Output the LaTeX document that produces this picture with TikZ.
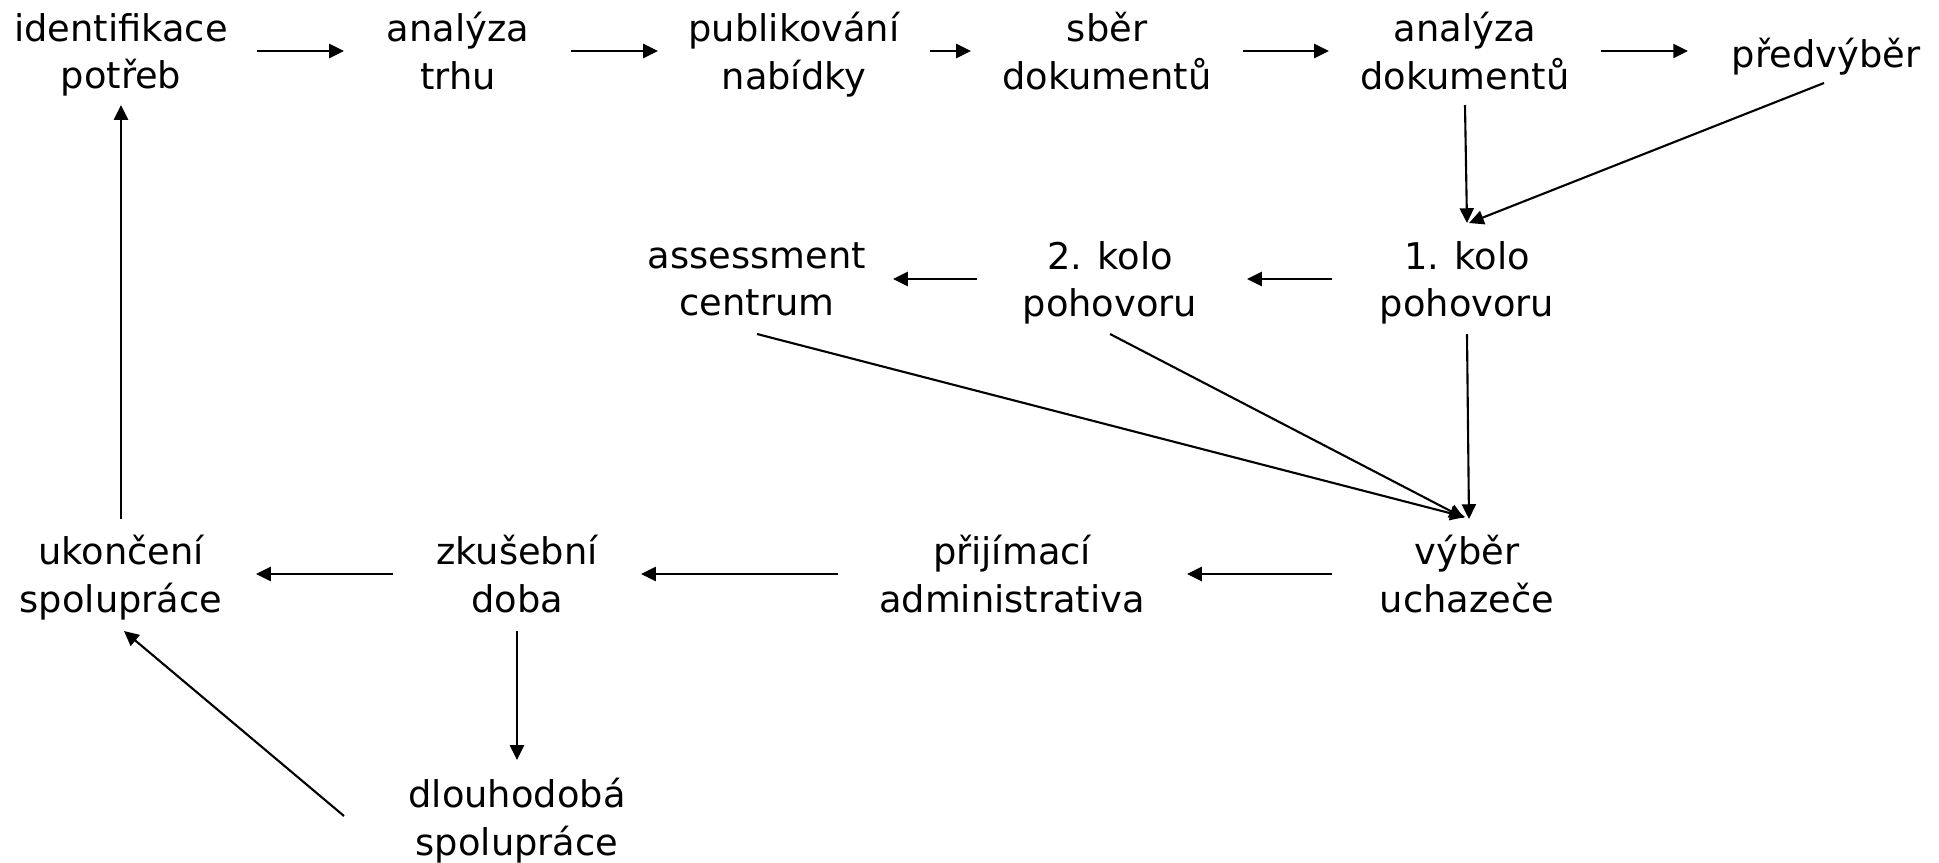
\documentclass[tikz,border=0pt]{standalone}
\usepackage{fontspec}
\setmainfont{DejaVu Sans}
\usetikzlibrary{arrows.meta, positioning}

\begin{document}
\begin{tikzpicture}[>={Triangle[length=4.2pt, width=4pt]}, every node/.style={font=\fontsize{10.47}{13.5}\selectfont, align=center, inner sep=0pt, execute at begin node=\strut, execute at end node=\strut}, flow/.style={->, line width=0.6pt}]
\useasboundingbox (0,0) rectangle (19.39,8.62);
% first row
\node (ident) at (1.21,8.04) {identifikace\\potřeb};
\node (trhu) at (4.58,8.04) {analýza\\trhu};
\node (nabidka) at (7.94,8.04) {publikování\\nabídky};
\node (sber) at (11.07,8.04) {sběr\\dokumentů};
\node (analyza) at (14.65,8.04) {analýza\\dokumentů};
\node (predvyber) at (18.26,8.04) {předvýběr};
% interviews
\node (assess) at (7.57,5.76) {assessment\\centrum};
\node (kolo2) at (11.10,5.76) {2. kolo\\pohovoru};
\node (kolo1) at (14.67,5.76) {1. kolo\\pohovoru};
% third row
\node (ukonceni) at (1.21,2.81) {ukončení\\spolupráce};
\node (zkusebni) at (5.17,2.81) {zkušební\\doba};
\node (prijimaci) at (10.12,2.81) {přijímací\\administrativa};
\node (vyber) at (14.67,2.81) {výběr\\uchazeče};
\node (dlouho) at (5.17,0.38) {dlouhodobá\\spolupráce};

\draw[flow] ([xshift=1.36cm, yshift=0.07cm]ident.center) -- ([xshift=-1.14cm, yshift=0.07cm]trhu.center);
\draw[flow] ([xshift=1.13cm, yshift=0.07cm]trhu.center) -- ([xshift=-1.36cm, yshift=0.07cm]nabidka.center);
\draw[flow] ([xshift=1.36cm, yshift=0.07cm]nabidka.center) -- ([xshift=-1.36cm, yshift=0.07cm]sber.center);
\draw[flow] ([xshift=1.36cm, yshift=0.07cm]sber.center) -- ([xshift=-1.36cm, yshift=0.07cm]analyza.center);
\draw[flow] ([xshift=1.36cm, yshift=0.07cm]analyza.center) -- ([xshift=-1.38cm, yshift=0.07cm]predvyber.center);
\draw[flow] ([yshift=-0.47cm]analyza.center) -- ([yshift=0.63cm]kolo1.center);
\draw[flow] ([xshift=-0.02cm, yshift=-0.25cm]predvyber.center) -- ([xshift=0.02cm, yshift=0.63cm]kolo1.center);
\draw[flow] ([xshift=-1.35cm, yshift=0.07cm]kolo1.center) -- ([xshift=1.37cm, yshift=0.07cm]kolo2.center);
\draw[flow] ([xshift=-1.33cm, yshift=0.07cm]kolo2.center) -- ([xshift=1.36cm, yshift=0.07cm]assess.center);
\draw[flow] ([yshift=-0.48cm]kolo1.center) -- ([xshift=0.02cm, yshift=0.62cm]vyber.center);
\draw[flow] ([yshift=-0.48cm]kolo2.center) -- ([xshift=-0.03cm, yshift=0.63cm]vyber.center);
\draw[flow] ([yshift=-0.48cm]assess.center) -- ([xshift=-0.02cm, yshift=0.64cm]vyber.center);
\draw[flow] ([xshift=-1.35cm, yshift=0.07cm]vyber.center) -- ([xshift=1.75cm, yshift=0.07cm]prijimaci.center);
\draw[flow] ([xshift=-1.74cm, yshift=0.07cm]prijimaci.center) -- ([xshift=1.24cm, yshift=0.07cm]zkusebni.center);
\draw[flow] ([xshift=-1.24cm, yshift=0.07cm]zkusebni.center) -- ([xshift=1.35cm, yshift=0.07cm]ukonceni.center);
\draw[flow] ([yshift=0.62cm]ukonceni.center) -- ([yshift=-0.47cm]ident.center);
\draw[flow] ([yshift=-0.50cm]zkusebni.center) -- ([yshift=0.64cm]dlouho.center);
\draw[flow] ([xshift=-1.73cm, yshift=0.08cm]dlouho.center) -- ([xshift=0.03cm, yshift=-0.50cm]ukonceni.center);
\end{tikzpicture}
\end{document}
